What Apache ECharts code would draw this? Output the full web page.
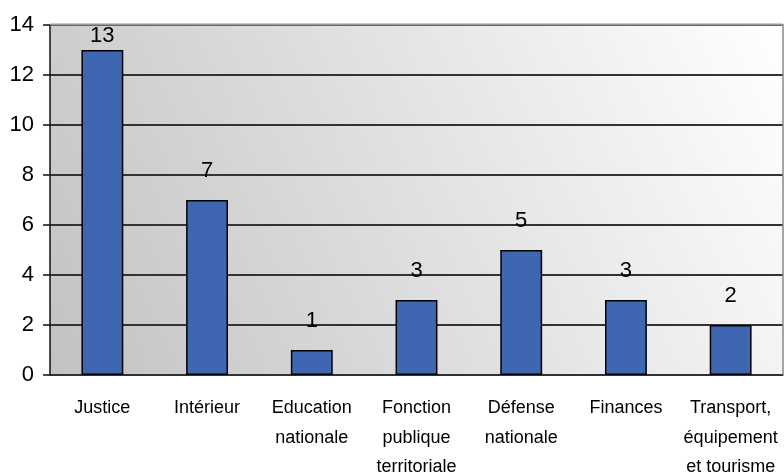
<!DOCTYPE html>
<html><head><meta charset="utf-8">
<script src="https://cdn.jsdelivr.net/npm/echarts@6/dist/echarts.min.js"></script>
<style>html,body{margin:0;padding:0;background:#fff}#c{width:784px;height:476px}</style>
</head><body><div id="c"></div>
<script>
var categories = ['Justice', 'Intérieur', 'Education\nnationale', 'Fonction\npublique\nterritoriale', 'Défense\nnationale', 'Finances', 'Transport,\néquipement\net tourisme'];
var values = [13, 7, 1, 3, 5, 3, 2];
var yMin = 0, yMax = 14, yStep = 2;

var chart = echarts.init(document.getElementById('c'), null, {renderer: 'canvas'});
var font = '"Liberation Sans", Arial, sans-serif';
chart.setOption({
  animation: false,
  grid: {
    left: 50, right: 1, top: 25, bottom: 101,
    outerBoundsMode: 'none',
    containLabel: false,
    show: true,
    borderWidth: 0,
    backgroundColor: new echarts.graphic.LinearGradient(0, 1, 1, 0, [
      {offset: 0, color: '#c2c2c2'},
      {offset: 1, color: '#ffffff'}
    ])
  },
  xAxis: {
    type: 'category',
    data: categories,
    axisLine: {lineStyle: {color: '#333', width: 1.5}},
    axisTick: {length: 6, lineStyle: {color: '#333', width: 1.5}},
    axisLabel: {color: '#000', fontFamily: font, fontSize: 18, lineHeight: 29.5, margin: 18.5, interval: 0}
  },
  yAxis: {
    type: 'value',
    min: yMin, max: yMax, interval: yStep,
    axisLine: {show: true, lineStyle: {color: '#111', width: 1.5}},
    axisTick: {show: true, length: 7, lineStyle: {color: '#111', width: 1.5}},
    axisLabel: {color: '#000', fontFamily: font, fontSize: 22, margin: 16},
    splitLine: {lineStyle: {color: '#333', width: 2}}
  },
  series: [{
    type: 'bar',
    barWidth: '40%',
    data: values.map(function (v, i) {
      return {value: v, label: {distance: v >= yMax - 1.5 ? 3 : 18}};
    }),
    itemStyle: {color: '#3f67b1', borderColor: '#000', borderWidth: 1.5},
    label: {show: true, position: 'top', color: '#000', fontFamily: font, fontSize: 22}
  }],
  graphic: []
});
chart.setOption({
  graphic: [
    {type: 'line', shape: {x1: 50, y1: 24.5, x2: 783, y2: 24.5}, style: {stroke: '#999', lineWidth: 2}, z: 100},
    {type: 'line', shape: {x1: 783, y1: 24, x2: 783, y2: 375}, style: {stroke: '#888', lineWidth: 1.5}, z: 100}
  ]
});
</script>
</body></html>
